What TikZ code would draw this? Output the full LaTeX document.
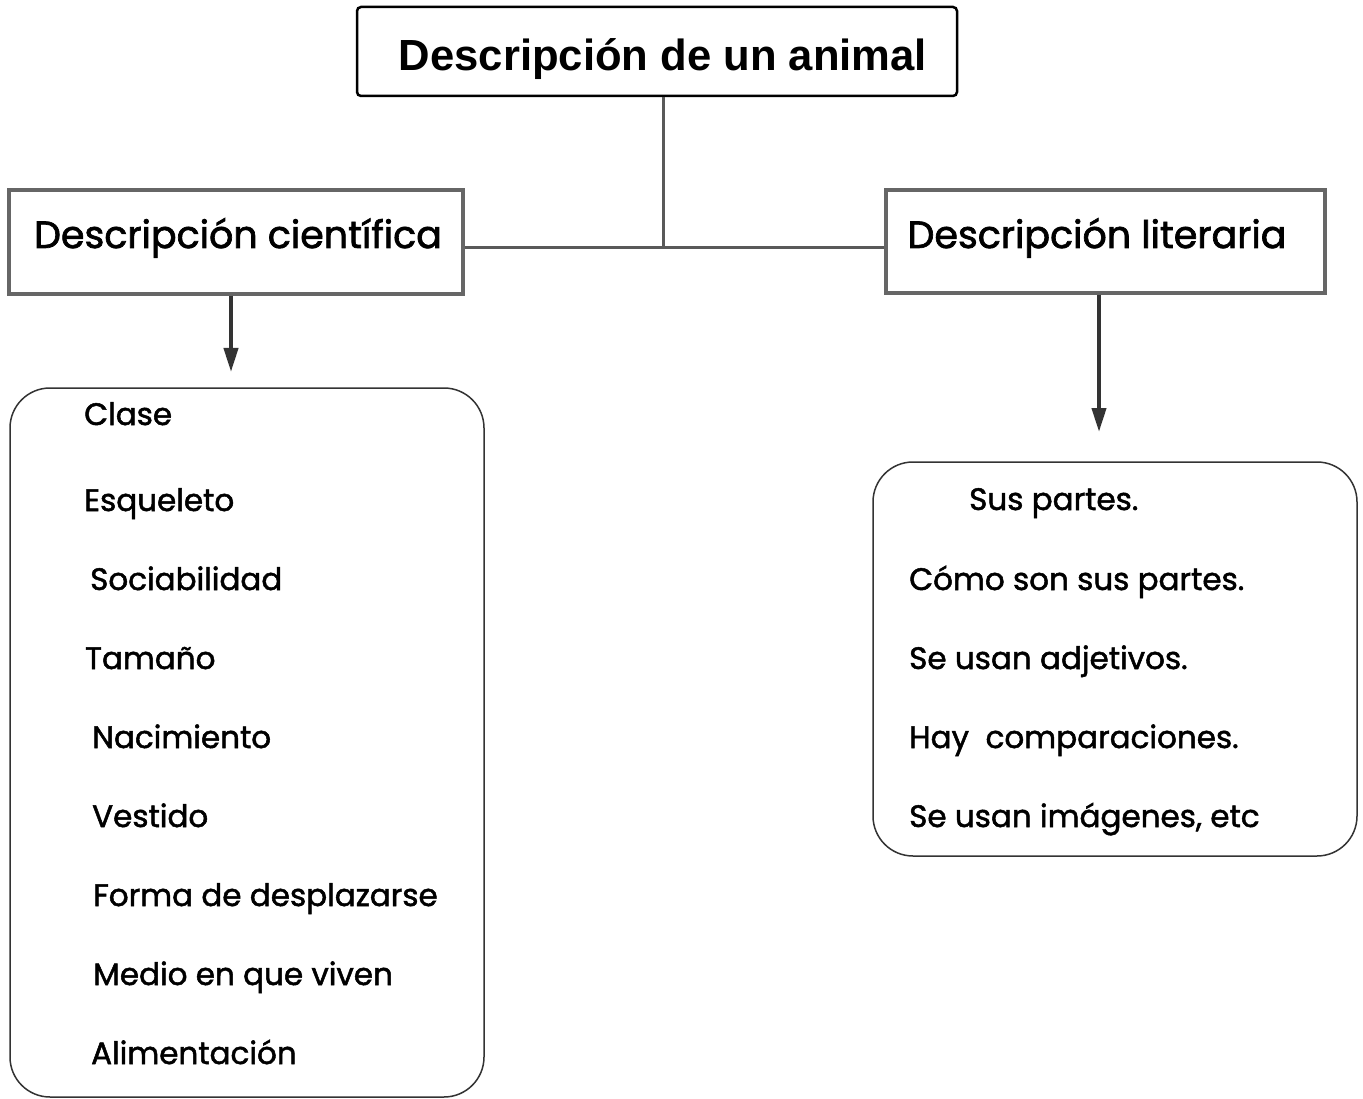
\documentclass[tikz,border=0pt]{standalone}
\usepackage{fontspec}
\setmainfont{Poppins}
\newfontfamily\titlefont{Liberation Sans}
\newfontfamily\itemfont{Poppins}[FakeBold=1.6]
\newfontfamily\headfont{Poppins}[FakeBold=1.8]
\usetikzlibrary{arrows.meta}
\tikzset{
  titlebox/.style={draw=black, line width=2.5pt, rounded corners=4pt, minimum width=600pt, minimum height=89pt, inner sep=0pt},
  headbox/.style={draw=black!60, line width=3.5pt, inner sep=0pt},
  listbox/.style={draw=black!80, line width=1.5pt, rounded corners=40pt, inner sep=0pt},
  headtext/.style={font=\headfont\fontsize{38}{42}\selectfont, inner sep=0pt, anchor=base},
  itemtext/.style={font=\itemfont\fontsize{31}{35}\selectfont, anchor=base west, inner sep=0pt},
  conn/.style={draw=black!65, line width=3pt},
  arr/.style={draw=black!80, line width=4pt, -{Triangle[width=14pt,length=24pt]}},
}
\begin{document}
\begin{tikzpicture}[x=1pt,y=-1pt]
\useasboundingbox (0,0) rectangle (1363,1099);
\fill[white] (0,0) rectangle (1363,1099);

\node[titlebox] (title) at (657,51.5) {};
\node[font=\titlefont\bfseries\fontsize{43.6}{48}\selectfont, inner sep=0pt, anchor=base] (titletext) at (663,71) {Descripción de un animal};

\node[headbox, minimum width=454pt, minimum height=104pt] (left) at (236,242) {};
\node[headtext] (lefttext) at (238,248) {Descripción científica};
\node[headbox, minimum width=439pt, minimum height=103pt] (right) at (1105.5,241.5) {};
\node[headtext] (righttext) at (1097,248) {Descripción literaria};

\coordinate (j) at (663,248);
\draw[conn] (title.south -| j) -- (j);
\draw[conn] (left.east |- j) -- (right.west |- j);

\coordinate (la) at (231,372);
\coordinate (ra) at (1099,432);
\draw[arr] (left.south -| la) -- (la);
\draw[arr] (right.south -| ra) -- (ra);

\node[listbox, minimum width=474pt, minimum height=709pt] (llist) at (247,742.5) {};
\node[listbox, minimum width=484pt, minimum height=394pt] (rlist) at (1115,659) {};

\node[itemtext] (l1) at (84,425) {Clase};
\node[itemtext] (l2) at (84,511) {Esqueleto};
\node[itemtext] (l3) at (90,590) {Sociabilidad};
\node[itemtext] (l4) at (85,669) {Tamaño};
\node[itemtext] (l5) at (92,748) {Nacimiento};
\node[itemtext] (l6) at (92,827) {Vestido};
\node[itemtext] (l7) at (93,906) {Forma de desplazarse};
\node[itemtext] (l8) at (93,985) {Medio en que viven};
\node[itemtext] (l9) at (91,1064) {Alimentación};

\node[itemtext] (r1) at (969,510) {Sus partes.};
\node[itemtext] (r2) at (909,590) {Cómo son sus partes.};
\node[itemtext] (r3) at (909,669) {Se usan adjetivos.};
\node[itemtext] (r4) at (909,748) {Hay\ \ comparaciones.};
\node[itemtext] (r5) at (909,827) {Se usan imágenes, etc};
\end{tikzpicture}
\end{document}
